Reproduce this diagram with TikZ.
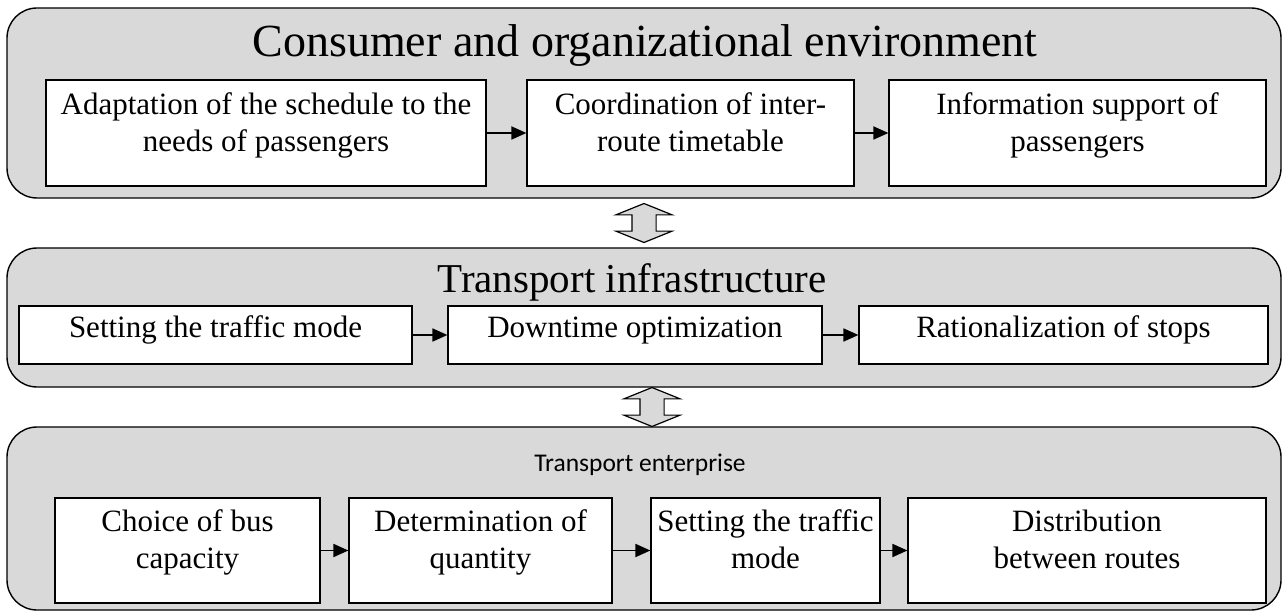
\documentclass[tikz,border=0pt]{standalone}
\usepackage{fontspec}
\setmainfont{Liberation Serif}
\newfontfamily\calibrifont{Carlito}
\usetikzlibrary{arrows.meta,shapes.arrows,calc}

\definecolor{panelgray}{RGB}{217,217,217}

\tikzset{
    panel/.style={draw, line width=1.4pt, fill=panelgray, rounded corners=30pt, inner sep=0pt},
    stagebox/.style={draw, line width=1.2pt, fill=white, inner sep=0pt, align=center,
        font=\fontsize{31}{37}\selectfont, text depth=22pt},
    flow/.style={line width=1.8pt, -{Triangle[length=15pt,width=13pt]}},
    link/.style={double arrow, draw, line width=1.2pt, fill=panelgray, inner xsep=0pt, inner ysep=11.5pt,
        minimum width=55pt, double arrow head extend=16pt, minimum height=39pt,
        double arrow tip angle=136, rotate=90}
}

\begin{document}
\begin{tikzpicture}[x=1pt, y=-1pt]
    \useasboundingbox (0,0) rectangle (1282,612);

    % Draw the three panels
    \node[panel, minimum width=1274pt, minimum height=190pt] (env) at (644,103) {};
    \node[panel, minimum width=1274pt, minimum height=139pt] (infra) at (644,317.5) {};
    \node[panel, minimum width=1274pt, minimum height=183pt] (firm) at (644,518.5) {};

    % Panel titles
    \node[font=\fontsize{46}{50}\selectfont] (envtitle) at (645,46) {Consumer and organizational environment};
    \node[font=\fontsize{41}{46}\selectfont] (infratitle) at (632,282) {Transport infrastructure};
    \node[font=\calibrifont\fontsize{25.5}{30}\selectfont] (firmtitle) at (640,465) {Transport enterprise};

    % Boxes of the consumer level
    \node[stagebox, minimum width=440pt, minimum height=106pt] (a1) at (266,133)
        {Adaptation of the schedule to the\\needs of passengers};
    \node[stagebox, minimum width=327pt, minimum height=106pt] (a2) at (690.5,133)
        {Coordination of inter-\\route timetable};
    \node[stagebox, minimum width=377pt, minimum height=106pt] (a3) at (1077.5,133)
        {Information support of\\passengers};

    % Boxes of the infrastructure level
    \node[stagebox, text depth=16pt, minimum width=393pt, minimum height=58pt] (b1) at (215.5,335) {Setting the traffic mode};
    \node[stagebox, text depth=16pt, minimum width=374pt, minimum height=58pt] (b2) at (635,335) {Downtime optimization};
    \node[stagebox, text depth=16pt, minimum width=409pt, minimum height=58pt] (b3) at (1063.5,335) {Rationalization of stops};

    % Boxes of the enterprise level
    \node[stagebox, minimum width=265pt, minimum height=105pt] (c1) at (187.5,550.5) {Choice of bus\\capacity};
    \node[stagebox, minimum width=263pt, minimum height=105pt] (c2) at (480.5,550.5) {Determination of\\quantity};
    \node[stagebox, minimum width=229pt, minimum height=105pt] (c3) at (765.5,550.5) {Setting the traffic\\mode};
    \node[stagebox, minimum width=358pt, minimum height=105pt] (c4) at (1087,550.5) {Distribution\\between routes};

    % Arrows inside the panels
    \foreach \from/\to in {a1/a2, a2/a3, b1/b2, b2/b3, c1/c2, c2/c3, c3/c4}
        \draw[flow] (\from.east) -- (\to.west);

    % Links between the panels
    \node[link] (up) at ($(env.south)!0.5!(infra.north)$) {};
    \node[link] (down) at ([xshift=8pt]$(infra.south)!0.5!(firm.north)$) {};
\end{tikzpicture}
\end{document}
